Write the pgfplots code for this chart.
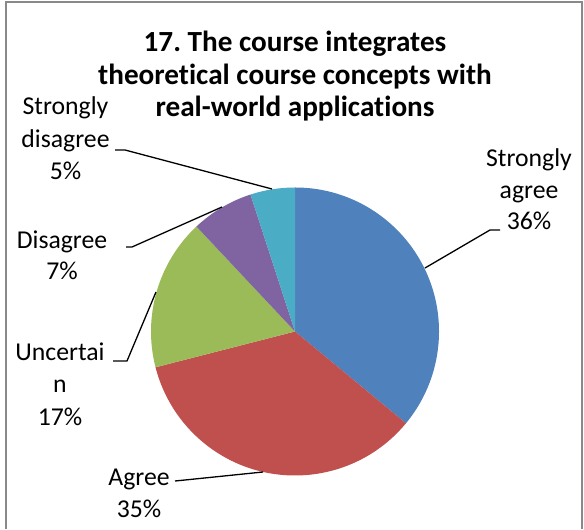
\documentclass[border=0pt]{standalone}
\usepackage{fontspec}
\setmainfont[Ligatures=NoCommon]{Carlito}
\usepackage{pgfplots}
\usepackage{pgfplotstable}
\pgfplotsset{compat=1.18}
\frenchspacing

\definecolor{sliceA}{HTML}{4F81BD}
\definecolor{sliceB}{HTML}{C0504D}
\definecolor{sliceC}{HTML}{9BBB59}
\definecolor{sliceD}{HTML}{8064A2}
\definecolor{sliceE}{HTML}{4BACC6}
\definecolor{frameGray}{HTML}{898989}

% share of answers, clockwise from 12 o'clock
\pgfplotstableread{
label value color
SA 36 sliceA
A  35 sliceB
U  17 sliceC
D  7  sliceD
SD 5  sliceE
}\piedata

\newcommand{\lbl}{\fontsize{25.8}{31}\selectfont}
\newcommand{\ttl}{\fontsize{29.3}{33}\selectfont\bfseries}

\begin{document}
\begin{tikzpicture}
\begin{axis}[
  x=1bp, y=1bp,
  xmin=0, xmax=584, ymin=0, ymax=529,
  hide axis, clip=false,
]
\fill[white] (axis cs:0,0) rectangle (axis cs:584,529);
\draw[frameGray, line width=2bp]
  (axis cs:6,0) -- (axis cs:6,526.5) -- (axis cs:582,526.5) -- (axis cs:582,0);

% pie wedges
\def\cum{90}
\pgfplotsforeachungrouped \i in {0,...,4}{%
  \pgfplotstablegetelem{\i}{value}\of\piedata
  \pgfmathsetmacro\sweep{3.6*\pgfplotsretval}%
  \pgfplotstablegetelem{\i}{color}\of\piedata
  \let\clr\pgfplotsretval
  \pgfmathsetmacro\endang{\cum-\sweep}%
  \edef\cmd{\noexpand\fill[\clr] (axis cs:295,197.5) -- ++(\cum:144bp)
    arc[start angle=\cum, end angle=\endang, radius=144bp] -- cycle;}%
  \cmd
  \global\let\cum\endang
}

% title
\node[anchor=base, font=\ttl] at (axis cs:295,477) {17. The course integrates};
\node[anchor=base, font=\ttl] at (axis cs:295,444) {theoretical course concepts with};
\node[anchor=base, font=\ttl] at (axis cs:295,412) {real-world applications};

% leader lines
\draw[black, line width=1.3bp] (axis cs:425,261) -- (axis cs:490,299) -- (axis cs:500,299);
\draw[black, line width=1.3bp] (axis cs:272,340) -- (axis cs:125,379) -- (axis cs:115,379);
\draw[black, line width=1.3bp] (axis cs:222,322) -- (axis cs:132,282) -- (axis cs:126,282);
\draw[black, line width=1.3bp] (axis cs:156,237) -- (axis cs:127,168) -- (axis cs:113,168);
\draw[black, line width=1.3bp] (axis cs:263,57) -- (axis cs:185,49) -- (axis cs:175,48);

% data labels
\node[anchor=base, font=\lbl] at (axis cs:529,362) {Strongly};
\node[anchor=base, font=\lbl] at (axis cs:529,330) {agree};
\node[anchor=base, font=\lbl] at (axis cs:529,299) {36\%};

\node[anchor=base, font=\lbl] at (axis cs:65.5,414) {Strongly};
\node[anchor=base, font=\lbl] at (axis cs:65.5,381) {disagree};
\node[anchor=base, font=\lbl] at (axis cs:65.5,349) {5\%};

\node[anchor=base, font=\lbl] at (axis cs:62,280) {Disagree};
\node[anchor=base, font=\lbl] at (axis cs:62,249) {7\%};

\node[anchor=base, font=\lbl] at (axis cs:60,168) {Uncertai};
\node[anchor=base, font=\lbl] at (axis cs:60,136) {n};
\node[anchor=base, font=\lbl] at (axis cs:60,103) {17\%};

\node[anchor=base, font=\lbl] at (axis cs:139,43) {Agree};
\node[anchor=base, font=\lbl] at (axis cs:139,11) {35\%};
\end{axis}
\end{tikzpicture}
\end{document}
